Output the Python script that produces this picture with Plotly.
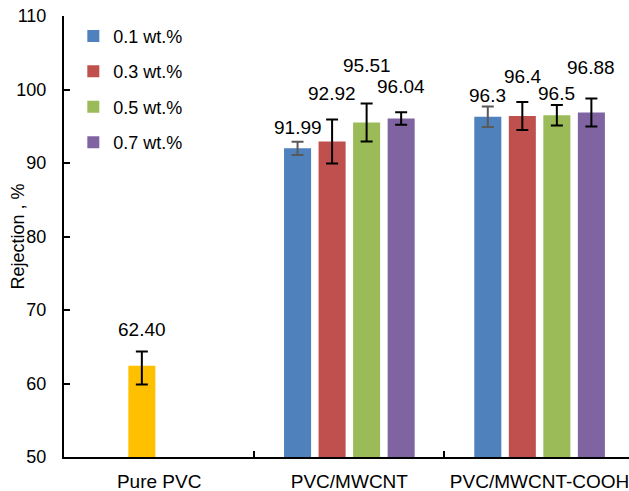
import plotly.graph_objects as go

categories = ["Pure PVC", "PVC/MWCNT", "PVC/MWCNT-COOH"]
series_names = ["0.1 wt.%", "0.3 wt.%", "0.5 wt.%", "0.7 wt.%"]
composite_cats = ["PVC/MWCNT", "PVC/MWCNT-COOH"]

pure_value = [62.40]
pure_err_plus = [1.95]
pure_err_minus = [2.55]

wt01 = [91.99, 96.3]
wt03 = [92.92, 96.4]
wt05 = [95.51, 96.5]
wt07 = [96.04, 96.88]

err01 = [0.9, 1.4]
err03 = [3.0, 1.9]
err05 = [2.6, 1.4]
err07 = [0.85, 1.9]

label01 = ["91.99", "96.3"]
label03 = ["92.92", "96.4"]
label05 = ["95.51", "96.5"]
label07 = ["96.04", "96.88"]
pure_label = ["62.40"]

# layout-only: vertical padding of value labels above error bar tops (in axis units)
pad01 = [2.0, 1.55]
pad03 = [3.6, 3.5]
pad05 = [5.2, 1.5]
pad07 = [3.5, 4.15]
pure_pad = [3.0]

colors = ["#4F81BD", "#C0504D", "#9BBB59", "#8064A2"]
err_colors = ["#595959", "#000000", "#000000", "#000000"]
pure_color = "#FFC000"

FONT = "Liberation Sans, Arial, sans-serif"
BARGAP = 0.274
GROUPGAP = 0.217

fig = go.Figure()

values = [wt01, wt03, wt05, wt07]
errs = [err01, err03, err05, err07]
labels = [label01, label03, label05, label07]
pads = [pad01, pad03, pad05, pad07]

for i in range(4):
    fig.add_trace(go.Bar(
        x=composite_cats, y=values[i], name=series_names[i],
        marker=dict(color=colors[i], line=dict(width=0)),
        offsetgroup=str(i), legendgroup=str(i),
        error_y=dict(type="data", array=errs[i], visible=True,
                     color=err_colors[i], thickness=2, width=6),
    ))

fig.add_trace(go.Bar(
    x=[categories[0]], y=pure_value, name="Pure PVC",
    marker=dict(color=pure_color, line=dict(width=0)),
    offsetgroup="1", legendgroup="1", showlegend=False,
    error_y=dict(type="data", array=pure_err_plus, arrayminus=pure_err_minus,
                 symmetric=False, visible=True, color="#000000", thickness=2, width=6),
))

slot = (1 - BARGAP) / 4
annotations = []
for i in range(4):
    off = (i - 1.5) * slot
    for j, c in enumerate(composite_cats):
        xi = categories.index(c) + off
        annotations.append(dict(
            x=xi, y=values[i][j] + errs[i][j] + pads[i][j], xref="x", yref="y",
            text=labels[i][j], showarrow=False,
            font=dict(family=FONT, size=19, color="#000000")))
annotations.append(dict(
    x=0 + (1 - 1.5) * slot, y=pure_value[0] + pure_err_plus[0] + pure_pad[0],
    xref="x", yref="y", text=pure_label[0], showarrow=False,
    font=dict(family=FONT, size=19, color="#000000")))

# y-axis title
annotations.append(dict(
    x=-0.083, y=0.5, xref="paper", yref="paper", xanchor="center", yanchor="middle",
    text="Rejection , %", textangle=-90, showarrow=False,
    font=dict(family=FONT, size=18, color="#000000")))

fig.update_layout(
    width=629, height=491,
    margin=dict(l=64, r=0, t=16, b=34),
    paper_bgcolor="white", plot_bgcolor="white",
    barmode="group", bargap=BARGAP, bargroupgap=GROUPGAP,
    font=dict(family=FONT, size=18, color="#000000"),
    showlegend=True,
    legend=dict(x=0.0165, y=0.996, xanchor="left", yanchor="top",
                traceorder="grouped", tracegroupgap=9,
                font=dict(family=FONT, size=18, color="#000000"),
                bgcolor="rgba(0,0,0,0)"),
    annotations=annotations,
)

fig.update_xaxes(
    type="category", categoryorder="array", categoryarray=categories,
    range=[-0.5, 2.47], showline=True, linecolor="#000000", linewidth=2,
    ticks="inside", tickson="boundaries", ticklen=6, tickwidth=2, tickcolor="#000000",
    showgrid=False, zeroline=False, ticklabelstandoff=6,
    tickfont=dict(family=FONT, size=19, color="#000000"),
)
fig.update_yaxes(
    range=[50, 110], dtick=10, showline=True, linecolor="#000000", linewidth=2,
    ticks="inside", ticklen=6, tickwidth=2, tickcolor="#000000",
    showgrid=False, zeroline=False, ticklabelstandoff=12,
    tickfont=dict(family=FONT, size=18, color="#000000"),
)

fig.write_html("out.html")
